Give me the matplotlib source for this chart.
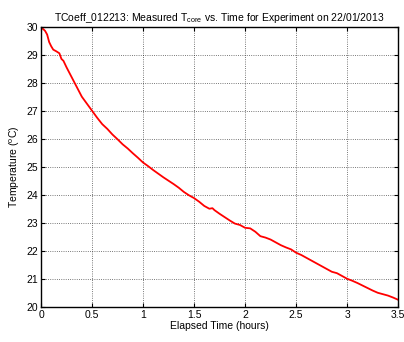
import matplotlib
matplotlib.use("Agg")
import matplotlib.pyplot as plt
import numpy as np

plt.rcParams['font.family'] = ['Liberation Sans', 'DejaVu Sans']
plt.rcParams['mathtext.fontset'] = 'custom'
plt.rcParams['mathtext.rm'] = 'Liberation Sans'
plt.rcParams['mathtext.it'] = 'Liberation Sans:italic'

time_hours = [0.00, 0.02, 0.04, 0.06, 0.08, 0.10, 0.12, 0.15, 0.18, 0.20, 0.22, 0.25,
              0.30, 0.35, 0.40, 0.45, 0.50, 0.55, 0.60, 0.65, 0.70, 0.75, 0.80, 0.85,
              0.90, 0.95, 1.00, 1.05, 1.10, 1.15, 1.20, 1.25, 1.30, 1.35, 1.40, 1.45,
              1.50, 1.55, 1.60, 1.65, 1.68, 1.70, 1.75, 1.80, 1.85, 1.90, 1.95, 2.00,
              2.05, 2.10, 2.15, 2.20, 2.25, 2.30, 2.35, 2.40, 2.45, 2.50, 2.55, 2.60,
              2.65, 2.70, 2.75, 2.80, 2.85, 2.90, 2.95, 3.00, 3.05, 3.10, 3.15, 3.20,
              3.25, 3.30, 3.35, 3.40, 3.45, 3.50]
temp_core = [29.95, 29.92, 29.85, 29.72, 29.45, 29.30, 29.18, 29.12, 29.05, 28.85, 28.78, 28.55,
             28.20, 27.85, 27.50, 27.25, 27.00, 26.75, 26.52, 26.35, 26.15, 25.98, 25.80, 25.65,
             25.48, 25.32, 25.15, 25.02, 24.88, 24.75, 24.62, 24.50, 24.38, 24.25, 24.10, 23.98,
             23.88, 23.75, 23.60, 23.50, 23.52, 23.45, 23.32, 23.20, 23.08, 22.97, 22.92, 22.82,
             22.80, 22.68, 22.52, 22.47, 22.40, 22.30, 22.20, 22.12, 22.05, 21.93, 21.85, 21.75,
             21.65, 21.55, 21.45, 21.35, 21.25, 21.20, 21.10, 21.00, 20.93, 20.85, 20.76, 20.67,
             20.58, 20.50, 20.45, 20.40, 20.33, 20.25]

x_ticks = [0, 0.5, 1, 1.5, 2, 2.5, 3, 3.5]
x_tick_labels = ['0', '0.5', '1', '1.5', '2', '2.5', '3', '3.5']
y_ticks = [20, 21, 22, 23, 24, 25, 26, 27, 28, 29, 30]

fig = plt.figure(figsize=(4.04, 3.42), dpi=100)
ax = fig.add_axes([0.1015, 0.103, 0.884, 0.819])
ax.plot(time_hours, temp_core, color='red', linewidth=1.3)
ax.set_xlim(0, 3.5)
ax.set_ylim(20, 30)
ax.set_xticks(x_ticks)
ax.set_xticklabels(x_tick_labels)
ax.set_yticks(y_ticks)
ax.tick_params(direction='in', top=True, right=True, length=3, width=0.8,
               labelsize=7.5, pad=2)
ax.grid(True, color='black', linestyle=':', linewidth=0.6, alpha=0.7)
for s in ax.spines.values():
    s.set_linewidth(1.0)
ax.set_xlabel('Elapsed Time (hours)', fontsize=7.5, labelpad=1)
ax.set_ylabel('Temperature ($^{\\rm o}$C)', fontsize=7.5, labelpad=3)
ax.set_title('TCoeff_012213: Measured T$_{\\rm core}$ vs. Time for Experiment on 22/01/2013',
             fontsize=7.5, pad=4)
fig.savefig('out.png', dpi=100)
